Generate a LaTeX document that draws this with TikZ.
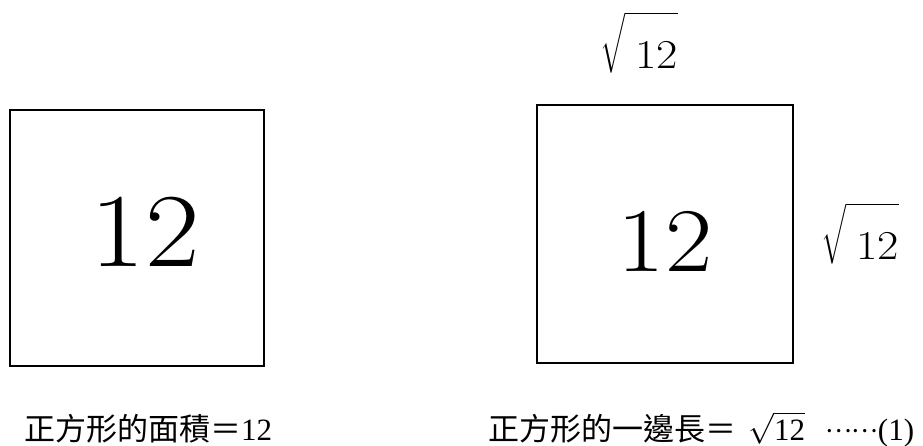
\RequirePackage{fix-cm}
\documentclass[tikz,border=0pt]{standalone}
\usepackage{exscale}
\usepackage{fontspec}
\newfontfamily\cjk{Noto Sans CJK TC}
\newfontfamily\timesf{Liberation Serif}
\newcommand{\widenum}[1]{\scalebox{1.13}[1]{#1}}
\begin{document}
\begin{tikzpicture}[x=1pt,y=-1pt,
  sqbox/.style={draw, line width=2.2pt, inner sep=0pt},
  rootlbl/.style={font=\fontsize{41}{41}\selectfont, inner sep=0pt, anchor=base west},
  caption/.style={font=\fontsize{31}{31}\selectfont, inner sep=0pt}]
\useasboundingbox (0,0) rectangle (923,445);
\node[sqbox, minimum width=254pt, minimum height=256pt] (sqA) at (137,238) {};
\node[font=\fontsize{105}{105}\selectfont, inner sep=0pt] (numA) at (145,232) {\widenum{12}};
\node[sqbox, minimum width=256pt, minimum height=258pt] (sqB) at (665,234) {};
\node[font=\fontsize{91}{91}\selectfont, inner sep=0pt] (numB) at (665,241) {\widenum{12}};
\node[rootlbl] (topR) at (600,68) {$\sqrt{\rule{0pt}{1.15em}\hspace{10pt}\widenum{12}}$};
\node[rootlbl] (sideR) at (821,259) {$\sqrt{\rule{0pt}{1.15em}\hspace{10pt}\widenum{12}}$};
\node[caption, anchor=base] (capA) at (148,440) {\cjk 正方形的面積＝\timesf 12};
\node[caption, anchor=base west] (capB) at (488,440) {\cjk 正方形的一邊長＝\hspace{12pt}$\sqrt{\hbox{\timesf 12}}$\hspace{20pt}\raisebox{8pt}{\fontsize{25}{25}\selectfont ……}\timesf(1)};
\end{tikzpicture}
\end{document}
